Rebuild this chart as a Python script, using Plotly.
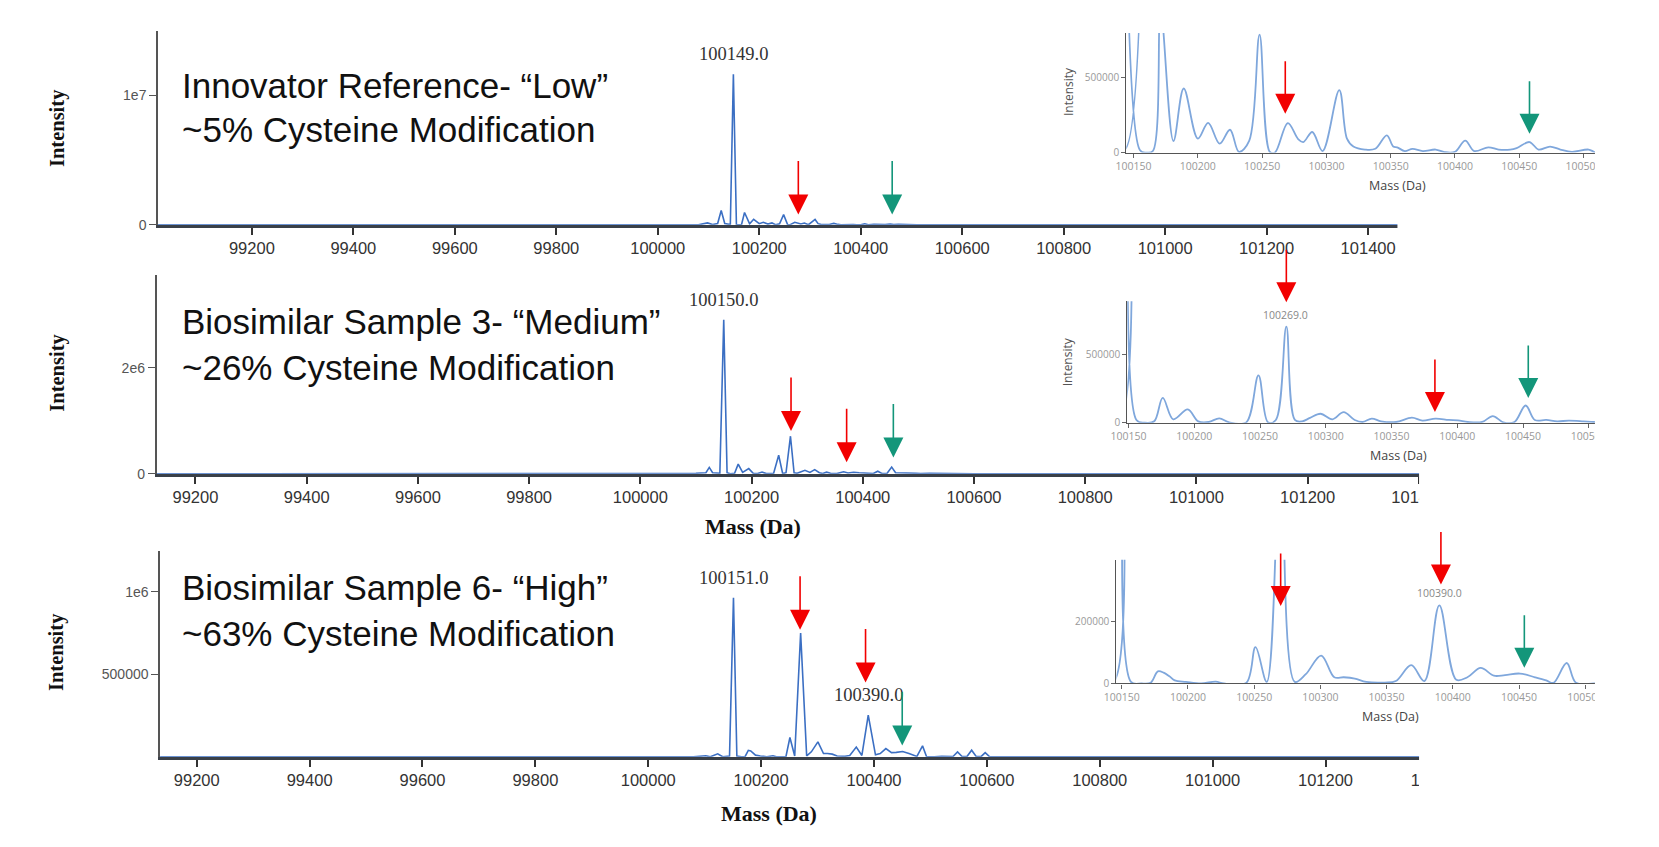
import plotly.graph_objects as go

W, H = 1659, 847

# ---------------- data ----------------
# (mass in Da, intensity)
spectrum_low = [
    (99015, 0), (100080, 0), (100098, 1.5e5), (100108, 2e4), (100118, 1e5), (100125, 1.1e6),
    (100132, 1e5), (100143, 2e4), (100149, 1.16e7), (100155, 1.5e4), (100160, 0), (100165, 1e4),
    (100171, 9.5e5), (100181, 7.7e4), (100189, 4.27e5), (100200, 9.3e4), (100208, 1.98e5),
    (100217, 5.9e4), (100225, 1.52e5), (100232, 4e3), (100240, 8e4), (100248, 7.86e5),
    (100256, 4e3), (100260, 0), (100270, 1.96e5), (100278, 9e4), (100282, 7e4), (100289, 1.37e5),
    (100297, 1e4), (100310, 4.16e5), (100316, 9.3e4), (100321, 4e4), (100330, 2e4), (100338, 2.5e4),
    (100347, 1.15e5), (100352, 4e4), (100355, 3.5e4), (100361, 1e4), (100367, 2.5e4), (100375, 1e4),
    (100385, 2e4), (100392, 3e3), (100400, 5e3), (100408, 8e4), (100415, 1e4), (100426, 3.5e4),
    (100434, 2e4), (100443, 2e4), (100448, 3e4), (100458, 7e4), (100465, 2e4), (100474, 4e4),
    (100482, 2e4), (100491, 5e3), (100504, 2e4), (100510, 0), (100560, 5e3), (100600, 0),
    (101610, 0),
]
spectrum_medium = [
    (99130, 0), (100080, 0), (100100, 1e4), (100118, 2e4), (100124, 1.2e5), (100130, 2e4),
    (100143, 1e4), (100150, 2.91e6), (100156, 2e4), (100162, 0), (100169.5, 1e4), (100176, 1.83e5),
    (100184, 2.5e4), (100195, 9.8e4), (100203, 1e4), (100211, 5e3), (100219, 3.2e4),
    (100226.5, 3e3), (100239.5, 2e3), (100248.8, 3.5e5), (100256, 3e3), (100262, 2e4),
    (100270, 7.1e5), (100276.5, 2e4), (100282, 1e4), (100288, 3.5e4), (100296, 6.6e4),
    (100305, 2.5e4), (100313.6, 7.8e4), (100322, 2e4), (100328, 5e3), (100335, 3e4), (100342, 1e4),
    (100353.5, 5e3), (100365.5, 3.7e4), (100373.5, 1.5e4), (100383.5, 3e4), (100393.5, 2e4),
    (100400.6, 1.7e4), (100408, 5e3), (100419, 5e3), (100427, 4.9e4), (100435, 3e3),
    (100443.5, 5e3), (100452, 1.27e5), (100459, 2e4), (100467.7, 2e4), (100476, 1e4),
    (100484.8, 1.5e4), (100496, 1e4), (100504, 5e3), (100520, 1e4), (100560, 5e3), (100600, 0),
    (101500, 0),
]
spectrum_high = [
    (99135, 0), (100080, 0), (100102, 6e3), (100110, 0), (100123, 1.8e4), (100132, 0),
    (100144, 5e3), (100151, 9.64e5), (100157, 5e3), (100165, 0), (100171.7, 2e3), (100177.3, 3.9e4),
    (100181.6, 3.5e4), (100186, 2.3e4), (100190, 1e4), (100198.6, 5e3), (100210, 0), (100221, 6e3),
    (100227, 0), (100244, 2e3), (100251, 1.17e5), (100259.5, 5e3), (100270, 7.5e5),
    (100280.7, 5e3), (100289, 3e4), (100300.6, 9e4), (100310.5, 2e4), (100317.6, 2e4),
    (100326, 1.6e4), (100334.6, 5e3), (100348.7, 3e3), (100357, 8e3), (100368.6, 5.9e4),
    (100378.5, 8e3), (100389.8, 2.52e5), (100402.6, 1.2e4), (100411, 2e4), (100421, 5e4),
    (100431, 2.5e4), (100439.4, 2.7e4), (100450.7, 3.2e4), (100462, 2e4), (100470.5, 1e4),
    (100476, 2e3), (100486, 6.6e4), (100493, 2e3), (100507, 0), (100520, 3e3), (100540, 2e3),
    (100548, 3e4), (100556, 2e3), (100565, 3e3), (100573, 4e4), (100581, 2e3), (100590, 2e3),
    (100597, 2.5e4), (100605, 0), (101460, 0),
]
spectra = [spectrum_low, spectrum_medium, spectrum_high]

sample_titles = ["Innovator Reference- \u201cLow\u201d",
                 "Biosimilar Sample 3- \u201cMedium\u201d",
                 "Biosimilar Sample 6- \u201cHigh\u201d"]
modification_texts = ["~5% Cysteine Modification",
                      "~26% Cysteine Modification",
                      "~63% Cysteine Modification"]

main_ticks = [99200, 99400, 99600, 99800, 100000, 100200, 100400, 100600, 100800, 101000, 101200, 101400]
inset_ticks = [100150, 100200, 100250, 100300, 100350, 100400, 100450, 100500]

main_ytick_vals = [[0, 1e7], [0, 2e6], [5e5, 1e6]]
main_ytick_text = [["0", "1e7"], ["0", "2e6"], ["500000", "1e6"]]
inset_ytick_vals = [[0, 5e5], [0, 5e5], [0, 2e5]]
inset_ytick_text = [["0", "500000"], ["0", "500000"], ["0", "200000"]]

# labelled peaks (mass)
main_peak_labels = [[100149.0], [100150.0], [100151.0, 100390.0]]
inset_peak_labels = [[], [100269.0], [100390.0]]

# arrows: (mass, tip intensity, kind)
arrows_main = [
    [(100277, 7.9e5, "red"), (100462, 7.9e5, "green")],
    [(100271, 8.1e5, "red"), (100371, 2.2e5, "red"), (100455, 3.1e5, "green")],
    [(100269, 7.7e5, "red"), (100385, 4.5e5, "red"), (100450, 6.8e4, "green")],
]
arrows_inset = [
    [(100268, 2.58e5, "red"), (100458, 1.25e5, "green")],
    [(100270, 8.9e5, "red"), (100383, 7.8e4, "red"), (100454, 1.83e5, "green")],
    [(100270, 2.5e5, "red"), (100391, 3.19e5, "red"), (100454, 5.1e4, "green")],
]

# ---------------- layout geometry (pixels) ----------------
MAIN = [
    dict(x0=143.5, x1=1480, ytop=31.7, ybot=227, xr=(99015, 101603), ymax=1.49e7, cut=1405),
    dict(x0=142, x1=1480, ytop=278, ybot=478.3, xr=(99130, 101494), ymax=3.75e6, cut=1427),
    dict(x0=145.6, x1=1480, ytop=556.7, ybot=764, xr=(99135, 101458), ymax=1.244e6, cut=1427),
]
INSET = [
    dict(x0=1129, x1=1606, ytop=33.3, ybot=154, xr=(100144.3, 100508.9), ymax=7.97e5),
    dict(x0=1130, x1=1606, ytop=304, ybot=426.7, xr=(100149, 100504.7), ymax=8.98e5),
    dict(x0=1119, x1=1606, ytop=565, ybot=690, xr=(100146, 100507.3), ymax=3.99e5),
]
TEXT_X = 166
TEXT_Y = [(86, 131), (325, 370.5), (593, 639.5)]
INT_TITLE = [(41, 129), (41, 376), (41, 658)]
MASS_TITLE = [None, (749, 532), (765, 821)]
INSET_INT_TITLE = [(1069.6, 92), (1069.5, 365), None]
INSET_MASS_TITLE = [(1405, 187), (1406, 460), (1398, 723)]

MAIN_BLUE = "#3b6fc3"
INSET_BLUE = "#7fa7dc"
RED = "#f20000"
GREEN = "#13967a"


def fx(p):
    return p / W


def fy(p):
    return 1 - p / H


def apex(spec, m):
    return max(i for (mm, i) in spec if abs(mm - m) <= 4)


fig = go.Figure()
layout = dict(width=W, height=H, margin=dict(l=0, r=0, t=0, b=0),
              paper_bgcolor="white", plot_bgcolor="rgba(0,0,0,0)", showlegend=False)
annotations = []
shapes = []

for k in range(3):
    spec = spectra[k]
    masses = [m for m, _ in spec]
    ints = [i for _, i in spec]
    mi = k + 1          # main axis index
    ii = k + 4          # inset axis index
    mx = "x" if mi == 1 else f"x{mi}"
    my = "y" if mi == 1 else f"y{mi}"
    ix, iy = f"x{ii}", f"y{ii}"

    fig.add_trace(go.Scatter(x=masses, y=ints, xaxis=mx, yaxis=my, mode="lines",
                             line=dict(color=MAIN_BLUE, width=1.6), hoverinfo="skip"))
    fig.add_trace(go.Scatter(x=masses, y=ints, xaxis=ix, yaxis=iy, mode="lines",
                             line=dict(color=INSET_BLUE, width=1.8, shape="spline", smoothing=1),
                             hoverinfo="skip"))

    g = MAIN[k]
    xkey = "xaxis" if mi == 1 else f"xaxis{mi}"
    ykey = "yaxis" if mi == 1 else f"yaxis{mi}"
    layout[xkey] = dict(domain=[fx(g["x0"]), fx(g["x1"])], range=list(g["xr"]), anchor=my,
                        tickvals=main_ticks, ticktext=[str(t) for t in main_ticks],
                        ticks="outside", ticklen=7, tickwidth=1.6, tickcolor="#333",
                        showline=True, linecolor="#3a4048", linewidth=2.6,
                        showgrid=False, zeroline=False,
                        tickfont=dict(family="Arial, Liberation Sans", size=16.5, color="#333"))
    layout[ykey] = dict(domain=[fy(g["ybot"]), fy(g["ytop"])], range=[0, g["ymax"]], anchor=mx,
                        tickvals=main_ytick_vals[k], ticktext=main_ytick_text[k],
                        ticks="outside", ticklen=7, tickwidth=1.3, tickcolor="#555",
                        showline=True, linecolor="#555", linewidth=1.5,
                        showgrid=False, zeroline=False,
                        tickfont=dict(family="Arial, Liberation Sans", size=14, color="#555"))

    s = INSET[k]
    layout[f"xaxis{ii}"] = dict(domain=[fx(s["x0"]), fx(s["x1"])], range=list(s["xr"]), anchor=iy,
                                tickvals=inset_ticks, ticktext=[str(t) for t in inset_ticks],
                                ticks="outside", ticklen=4, tickwidth=1, tickcolor="#666",
                                showline=True, linecolor="#555", linewidth=1.2,
                                showgrid=False, zeroline=False,
                                tickfont=dict(family="Open Sans, Arial", size=10.5, color="#999"))
    layout[f"yaxis{ii}"] = dict(domain=[fy(s["ybot"]), fy(s["ytop"])], range=[0, s["ymax"]], anchor=ix,
                                tickvals=inset_ytick_vals[k], ticktext=inset_ytick_text[k],
                                ticks="outside", ticklen=4, tickwidth=1, tickcolor="#666",
                                showline=True, linecolor="#555", linewidth=1.2,
                                showgrid=False, zeroline=False,
                                tickfont=dict(family="Open Sans, Arial", size=10, color="#999"))

    # big descriptive text
    for txt, yy in ((sample_titles[k], TEXT_Y[k][0]), (modification_texts[k], TEXT_Y[k][1])):
        annotations.append(dict(text=txt, xref="paper", yref="paper",
                                x=fx(TEXT_X), y=fy(yy), xanchor="left", yanchor="middle",
                                showarrow=False,
                                font=dict(family="Arial, Liberation Sans", size=35, color="#111")))
    # axis titles
    annotations.append(dict(text="<b>Intensity</b>", xref="paper", yref="paper",
                            x=fx(INT_TITLE[k][0]), y=fy(INT_TITLE[k][1]), textangle=-90,
                            xanchor="center", yanchor="middle", showarrow=False,
                            font=dict(family="Liberation Serif, Times New Roman", size=20.5, color="#111")))
    if MASS_TITLE[k]:
        annotations.append(dict(text="<b>Mass (Da)</b>", xref="paper", yref="paper",
                                x=fx(MASS_TITLE[k][0]), y=fy(MASS_TITLE[k][1]),
                                xanchor="center", yanchor="middle", showarrow=False,
                                font=dict(family="Liberation Serif, Times New Roman", size=22, color="#111")))
    if INSET_INT_TITLE[k]:
        annotations.append(dict(text="Intensity", xref="paper", yref="paper",
                                x=fx(INSET_INT_TITLE[k][0]), y=fy(INSET_INT_TITLE[k][1]), textangle=-90,
                                xanchor="center", yanchor="middle", showarrow=False,
                                font=dict(family="Open Sans, Arial", size=12, color="#555")))
    annotations.append(dict(text="Mass (Da)", xref="paper", yref="paper",
                            x=fx(INSET_MASS_TITLE[k][0]), y=fy(INSET_MASS_TITLE[k][1]),
                            xanchor="center", yanchor="middle", showarrow=False,
                            font=dict(family="Open Sans, Arial", size=12.5, color="#444")))

    # peak labels
    for m in main_peak_labels[k]:
        annotations.append(dict(text=f"{m:.1f}", xref=mx, yref=my, x=m, y=apex(spec, m),
                                xanchor="center", yanchor="bottom", yshift=8, showarrow=False,
                                font=dict(family="Liberation Serif, Times New Roman", size=18.5, color="#333")))
    for m in inset_peak_labels[k]:
        annotations.append(dict(text=f"{m:.1f}", xref=ix, yref=iy, x=m, y=apex(spec, m),
                                xanchor="center", yanchor="bottom", yshift=3, showarrow=False,
                                font=dict(family="Open Sans, Arial", size=10.5, color="#888")))

    # arrows
    for (m, v, kind) in arrows_main[k]:
        annotations.append(dict(text="", xref=mx, yref=my, x=m, y=v, ax=0, ay=-55,
                                showarrow=True, arrowhead=2, arrowsize=2.5, arrowwidth=1.6,
                                arrowcolor=RED if kind == "red" else GREEN))
    for (m, v, kind) in arrows_inset[k]:
        annotations.append(dict(text="", xref=ix, yref=iy, x=m, y=v, ax=0, ay=-54,
                                showarrow=True, arrowhead=2, arrowsize=2.5, arrowwidth=1.6,
                                arrowcolor=RED if kind == "red" else GREEN))

# white masks reproducing the cropped right edges
cut_bands = [(212, 268), (467, 515), (752, 805)]
for k in range(3):
    y0, y1 = cut_bands[k]
    shapes.append(dict(type="rect", xref="paper", yref="paper", layer="above",
                       x0=fx(MAIN[k]["cut"]), x1=1, y0=fy(y1), y1=fy(y0),
                       fillcolor="white", line=dict(width=0)))
shapes.append(dict(type="rect", xref="paper", yref="paper", layer="above",
                   x0=fx(1606), x1=1, y0=0, y1=1, fillcolor="white", line=dict(width=0)))

layout["annotations"] = annotations
layout["shapes"] = shapes
fig.update_layout(**layout)

fig.write_html("out.html", config={"displayModeBar": False},
               post_script="document.body.style.margin='0';document.body.style.overflow='hidden';")
